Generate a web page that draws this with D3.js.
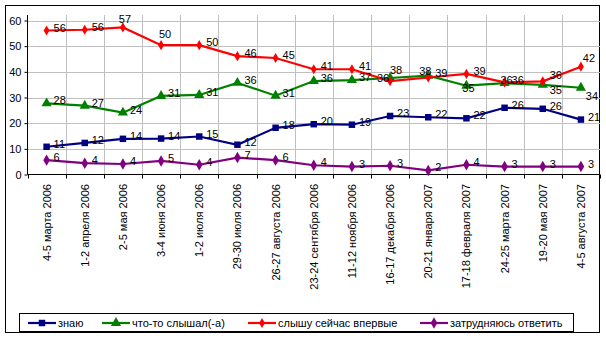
<!DOCTYPE html>
<html><head><meta charset="utf-8">
<script src="https://cdn.jsdelivr.net/npm/d3@7"></script>
<style>
html,body{margin:0;padding:0;background:#fff;}
svg text{font-family:"Liberation Sans",Arial,sans-serif;}
</style></head>
<body><svg id="c" width="606" height="338"></svg>
<script>
const categories = ["4-5 марта 2006","1-2 апреля 2006","2-5 мая 2006","3-4 июня 2006","1-2 июля 2006","29-30 июля 2006","26-27 августа 2006","23-24 сентября 2006","11-12 ноября 2006","16-17 декабря 2006","20-21 января 2007","17-18 февраля 2007","24-25 марта 2007","19-20 мая 2007","4-5 августа 2007"];
const seriesNames = ["знаю","что-то слышал(-а)","слышу сейчас впервые","затрудняюсь ответить"];
const know    = [10.8,12.3,13.9,14.0,14.8,11.6,18.2,19.6,19.4,22.8,22.3,21.9,26.0,25.6,21.4];
const heard   = [27.7,26.8,24.1,30.6,31.0,35.7,30.7,36.4,36.8,37.6,38.5,34.6,35.6,34.9,33.8];
const first   = [56.1,56.4,57.3,50.4,50.4,46.1,45.4,41.0,41.0,36.4,37.8,39.2,35.9,36.3,42.0];
const unsure  = [5.6,4.4,4.1,5.3,3.8,6.6,5.6,3.6,3.1,3.4,1.6,3.8,3.1,3.1,3.1];
const yTicks  = [0,10,20,30,40,50,60];

const colors = ["#000080","#008000","#ff0000","#800080"];
const markers = [d3.symbolSquare, d3.symbolTriangle, d3.symbolDiamond, d3.symbolDiamond];
const markerSizes = [42, 45, 30, 38];
const seriesValues = [know, heard, first, unsure];
// label placement overrides: "series-point" -> [dx, dy] of text centre relative to the point
const labelPlace = {
  "2-2":[2,-8], "2-3":[4,-11], "2-9":[-7,-3], "1-9":[6,-8], "2-10":[-3,-6],
  "1-11":[2,2], "2-12":[2,-2], "2-13":[13,-6], "1-13":[13,5], "2-14":[8,-9], "1-14":[11,8]
};

const svg = d3.select("#c");
svg.append("rect").attr("x",5.5).attr("y",5.5).attr("width",594).attr("height",327)
  .attr("fill","#fff").attr("stroke","#000");

const x0 = 27.5, x1 = 600, yTop = 15;
const x = d3.scaleBand().domain(categories).range([x0,x1]).padding(0);
const cx = d => x(d) + x.bandwidth()/2;
const y = d3.scaleLinear().domain([0,60]).range([174.5,20.5]);

// gridlines
const g = svg.append("g");
g.selectAll("line.h").data(yTicks.filter(t=>t>0)).join("line")
  .attr("x1",x0).attr("x2",x1).attr("y1",d=>Math.round(y(d))+0.5).attr("y2",d=>Math.round(y(d))+0.5)
  .attr("stroke","#c0c0c0");
g.selectAll("line.v").data(categories.slice(1)).join("line")
  .attr("x1",d=>Math.round(x(d))+0.5).attr("x2",d=>Math.round(x(d))+0.5)
  .attr("y1",yTop).attr("y2",y(0)).attr("stroke","#c0c0c0");

// y axis
const ya = svg.append("g").attr("transform",`translate(${x0},0)`)
  .call(d3.axisLeft(y).tickValues(yTicks).tickSize(3).tickPadding(3));
ya.select(".domain").remove();
ya.selectAll("line").attr("stroke","#000");
ya.selectAll("text").attr("font-size","11px").attr("fill","#000")
  .attr("font-family","'Liberation Sans',Arial,sans-serif");
svg.append("line").attr("x1",x0).attr("x2",x0).attr("y1",yTop).attr("y2",y(0)).attr("stroke","#000");

// x axis
svg.append("line").attr("x1",x0).attr("x2",x1).attr("y1",y(0)).attr("y2",y(0)).attr("stroke","#000");
const bounds = categories.map(c=>x(c)).concat([x1]);
svg.selectAll("line.xt").data(bounds).join("line")
  .attr("x1",d=>Math.round(d)+0.5).attr("x2",d=>Math.round(d)+0.5)
  .attr("y1",y(0)).attr("y2",y(0)+4).attr("stroke","#000");
svg.selectAll("text.xl").data(categories).join("text")
  .attr("transform",d=>`translate(${cx(d)+4},${184}) rotate(-90)`)
  .attr("text-anchor","end").attr("font-size","11px").attr("fill","#000")
  .text(d=>d);

// series
const line = d3.line().x((d,i)=>cx(categories[i])).y(d=>y(d));
seriesValues.forEach((vals,si)=>{
  const sg = svg.append("g");
  sg.append("path").datum(vals).attr("d",line).attr("fill","none")
    .attr("stroke",colors[si]).attr("stroke-width",2.2);
  sg.selectAll("path.m").data(vals).join("path")
    .attr("d",d3.symbol().type(markers[si]).size(markerSizes[si]))
    .attr("transform",(d,i)=>`translate(${cx(categories[i])},${y(d)})`)
    .attr("fill",colors[si]);
});
// labels
seriesValues.forEach((vals,si)=>{
  svg.selectAll(null).data(vals).join("text")
    .each(function(d,i){
      const p = labelPlace[si+"-"+i], px = cx(categories[i]), py = y(d);
      const t = d3.select(this);
      if (p) t.attr("text-anchor","middle").attr("x",px+p[0]).attr("y",py+p[1]+4);
      else t.attr("text-anchor","start").attr("x",px+7).attr("y",py+1);
    })
    .attr("font-size","11px").attr("fill","#000")
    .text(d=>Math.round(d));
});

// legend
svg.append("rect").attr("x",19.5).attr("y",313.5).attr("width",554).attr("height",18)
  .attr("fill","#fff").attr("stroke","#000");
const legX = [28, 102, 248, 420];
const lg = svg.append("g");
seriesNames.forEach((n,si)=>{
  const gx = legX[si], ly = 323;
  lg.append("line").attr("x1",gx).attr("x2",gx+28).attr("y1",ly).attr("y2",ly)
    .attr("stroke",colors[si]).attr("stroke-width",2.2);
  lg.append("path").attr("d",d3.symbol().type(markers[si]).size(markerSizes[si]))
    .attr("transform",`translate(${gx+14},${ly})`).attr("fill",colors[si]);
  lg.append("text").attr("x",gx+30).attr("y",327).attr("font-size","11px").attr("fill","#000").text(n);
});
</script></body></html>
